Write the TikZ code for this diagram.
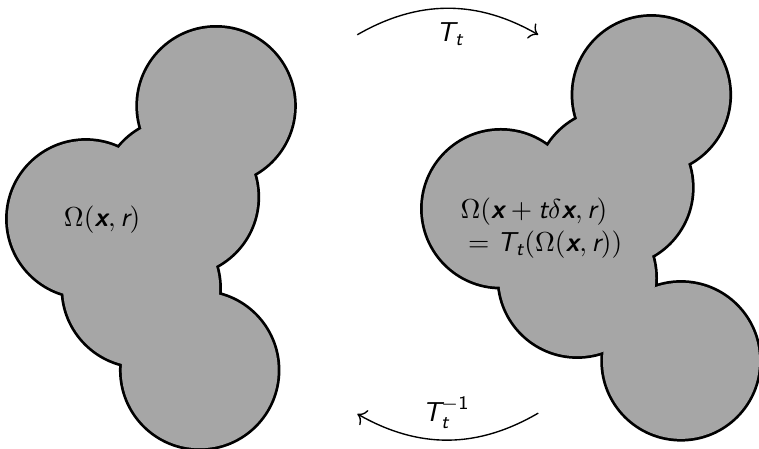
\documentclass[tikz,border=0pt]{standalone}
\usepackage{amsmath}
\usetikzlibrary{arrows.meta}
\definecolor{blobgray}{RGB}{166,166,166}
\newcommand{\vx}{\textsf{\bfseries\itshape x}}
\newcommand{\sv}[1]{\textsf{\itshape #1}}

\begin{document}
\begin{tikzpicture}[every node/.style={font=\normalsize}]
  \tikzset{
    blobedge/.style={draw=black, line width=2pt},
    blobfill/.style={fill=blobgray},
    mapping/.style={-{To[length=3pt]}, line width=0.5pt}
  }
  \useasboundingbox (0,0) rectangle (9.73,5.756);

  % reference domain: union of discs of radius r
  \foreach \x/\y in {2.77/4.40, 2.30/3.23, 1.10/2.95, 1.81/2.06, 2.56/1.01}
    \draw[blobedge] (\x,\y) circle (1);
  \foreach \x/\y in {2.77/4.40, 2.30/3.23, 1.10/2.95, 1.81/2.06, 2.56/1.01}
    \fill[blobfill] (\x,\y) circle (1);
  \node (reflabel) at (1.31,2.94) {$\Omega(\vx, \sv{r})$};

  % perturbed domain
  \foreach \x/\y in {8.35/4.54, 7.87/3.35, 6.42/3.08, 7.40/2.19, 8.73/1.13}
    \draw[blobedge] (\x,\y) circle (1);
  \foreach \x/\y in {8.35/4.54, 7.87/3.35, 6.42/3.08, 7.40/2.19, 8.73/1.13}
    \fill[blobfill] (\x,\y) circle (1);
  \node[align=left] (deflabel) at (6.94,2.83)
    {$\Omega(\vx + \sv{t}\delta\vx, \sv{r})$\\${}= \sv{T}_{\sv{t}}(\Omega(\vx, \sv{r}))$};

  % maps between the two
  \coordinate (fwdstart) at (4.58,5.31);
  \coordinate (fwdend)   at (6.90,5.31);
  \coordinate (invstart) at (6.90,0.46);
  \coordinate (invend)   at (4.58,0.45);
  \draw[mapping] (fwdstart) to[bend left=30] (fwdend);
  \draw[mapping] (invstart) to[bend left=30] (invend);
  \node (fwdlabel) at (5.77,5.32) {$\sv{T}_{\sv{t}}$};
  \node (invlabel) at (5.72,0.47) {$\sv{T}_{\sv{t}}^{-\textsf{1}}$};
\end{tikzpicture}
\end{document}
